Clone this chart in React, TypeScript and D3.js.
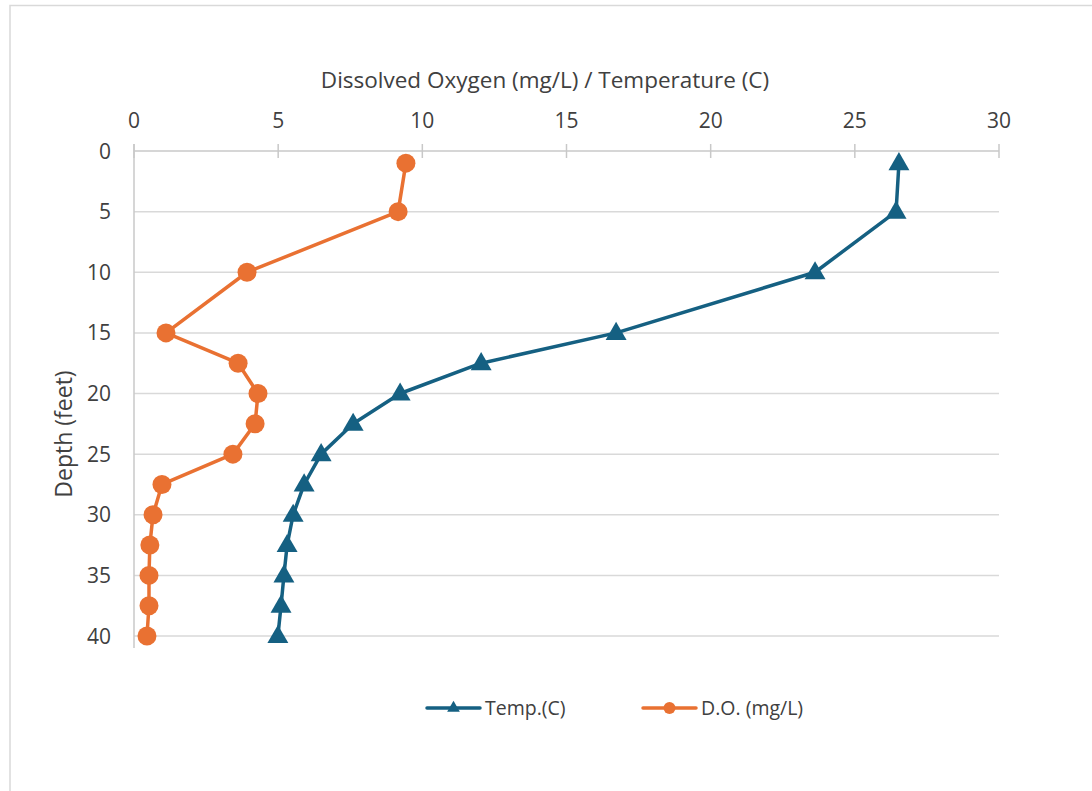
import { useEffect, useRef } from "react";
import * as d3 from "d3";

const depths = [1, 5, 10, 15, 17.5, 20, 22.5, 25, 27.5, 30, 32.5, 35, 37.5, 40];
const tempC = [26.53, 26.43, 23.62, 16.72, 12.04, 9.23, 7.6, 6.49, 5.9, 5.52, 5.31, 5.2, 5.1, 4.99];
const doMgL = [9.43, 9.16, 3.92, 1.11, 3.61, 4.3, 4.2, 3.43, 0.97, 0.66, 0.55, 0.52, 0.52, 0.45];
const xTicks = [0, 5, 10, 15, 20, 25, 30];
const yTicks = [0, 5, 10, 15, 20, 25, 30, 35, 40];

const TEMP_COLOR = "#156082";
const DO_COLOR = "#E97132";
const FONT = "'Open Sans', 'Liberation Sans', sans-serif";
const TEXT_COLOR = "#404040";

export default function App() {
  const svgRef = useRef<SVGSVGElement>(null);

  useEffect(() => {
    if (!svgRef.current) return;
    const svg = d3.select(svgRef.current);
    svg.selectAll("*").remove();

    const W = 1092;
    const H = 791;

    // chart frame (runs off the right and bottom edges)
    svg
      .append("rect")
      .attr("x", 10)
      .attr("y", 5.5)
      .attr("width", W + 20)
      .attr("height", H + 20)
      .attr("fill", "#fff")
      .attr("stroke", "#d9d9d9")
      .attr("stroke-width", 1.5);

    const x = d3.scaleLinear().domain([0, 30]).range([134, 999]);
    const y = d3.scaleLinear().domain([0, 40]).range([151, 636]);

    // horizontal gridlines
    svg
      .append("g")
      .selectAll("line")
      .data(yTicks.slice(1))
      .join("line")
      .attr("x1", x(0))
      .attr("x2", x(30))
      .attr("y1", (d) => y(d))
      .attr("y2", (d) => y(d))
      .attr("stroke", "#d9d9d9")
      .attr("stroke-width", 1.5);

    // top axis line + ticks
    svg
      .append("line")
      .attr("x1", x(0))
      .attr("x2", x(30))
      .attr("y1", y(0))
      .attr("y2", y(0))
      .attr("stroke", "#c8c8c8")
      .attr("stroke-width", 1.5);
    svg
      .append("g")
      .selectAll("line")
      .data(xTicks)
      .join("line")
      .attr("x1", (d) => x(d))
      .attr("x2", (d) => x(d))
      .attr("y1", y(0) - 7)
      .attr("y2", y(0) + 7)
      .attr("stroke", "#c8c8c8")
      .attr("stroke-width", 1.5);

    // left axis line
    svg
      .append("line")
      .attr("x1", x(0))
      .attr("x2", x(0))
      .attr("y1", y(0) - 7)
      .attr("y2", y(40) + 12)
      .attr("stroke", "#c8c8c8")
      .attr("stroke-width", 1.5);

    // tick labels
    svg
      .append("g")
      .selectAll("text")
      .data(xTicks)
      .join("text")
      .attr("x", (d) => x(d))
      .attr("y", 128)
      .attr("text-anchor", "middle")
      .attr("font-family", FONT)
      .attr("font-size", 21)
      .attr("fill", TEXT_COLOR)
      .text((d) => d);

    svg
      .append("g")
      .selectAll("text")
      .data(yTicks)
      .join("text")
      .attr("x", 111)
      .attr("y", (d) => y(d) + 7.5)
      .attr("text-anchor", "end")
      .attr("font-family", FONT)
      .attr("font-size", 21)
      .attr("fill", TEXT_COLOR)
      .text((d) => d);

    // axis titles
    svg
      .append("text")
      .attr("x", 545)
      .attr("y", 88)
      .attr("text-anchor", "middle")
      .attr("font-family", FONT)
      .attr("font-size", 22.5)
      .attr("fill", TEXT_COLOR)
      .text("Dissolved Oxygen (mg/L) / Temperature (C)");

    svg
      .append("text")
      .attr("transform", `translate(72,434) rotate(-90)`)
      .attr("text-anchor", "middle")
      .attr("font-family", FONT)
      .attr("font-size", 23)
      .attr("fill", TEXT_COLOR)
      .text("Depth (feet)");

    const triangle = d3.symbol(d3.symbolTriangle, 190);

    // series
    const tempPts = depths.map((d, i) => [tempC[i], d] as [number, number]);
    const doPts = depths.map((d, i) => [doMgL[i], d] as [number, number]);
    const line = d3
      .line<[number, number]>()
      .x((d) => x(d[0]))
      .y((d) => y(d[1]));

    svg
      .append("path")
      .datum(tempPts)
      .attr("fill", "none")
      .attr("stroke", TEMP_COLOR)
      .attr("stroke-width", 3.5)
      .attr("stroke-linejoin", "round")
      .attr("d", line);
    svg
      .append("g")
      .selectAll("path")
      .data(tempPts)
      .join("path")
      .attr("transform", (d) => `translate(${x(d[0])},${y(d[1]) + 1})`)
      .attr("d", triangle)
      .attr("fill", TEMP_COLOR);

    svg
      .append("path")
      .datum(doPts)
      .attr("fill", "none")
      .attr("stroke", DO_COLOR)
      .attr("stroke-width", 3.5)
      .attr("stroke-linejoin", "round")
      .attr("d", line);
    svg
      .append("g")
      .selectAll("circle")
      .data(doPts)
      .join("circle")
      .attr("cx", (d) => x(d[0]))
      .attr("cy", (d) => y(d[1]))
      .attr("r", 9.5)
      .attr("fill", DO_COLOR);

    // legend
    const legend = svg.append("g").attr("transform", "translate(0,708)");
    const items = [
      { label: "Temp.(C)", color: TEMP_COLOR, x0: 427, marker: "tri" },
      { label: "D.O. (mg/L)", color: DO_COLOR, x0: 643, marker: "circle" },
    ];
    items.forEach((it) => {
      legend
        .append("line")
        .attr("x1", it.x0)
        .attr("x2", it.x0 + 53)
        .attr("stroke", it.color)
        .attr("stroke-width", 3.5)
        .attr("stroke-linecap", "round");
      if (it.marker === "tri") {
        legend
          .append("path")
          .attr("transform", `translate(${it.x0 + 26.5},0)`)
          .attr("d", d3.symbol(d3.symbolTriangle, 70)())
          .attr("fill", it.color);
      } else {
        legend
          .append("circle")
          .attr("cx", it.x0 + 26.5)
          .attr("r", 6)
          .attr("fill", it.color);
      }
      legend
        .append("text")
        .attr("x", it.x0 + 58)
        .attr("y", 7)
        .attr("font-family", FONT)
        .attr("font-size", 19.5)
        .attr("fill", TEXT_COLOR)
        .text(it.label);
    });
  }, []);

  return (
    <svg
      ref={svgRef}
      width={1092}
      height={791}
      style={{ position: "absolute", left: 0, top: 0, display: "block" }}
    />
  );
}
